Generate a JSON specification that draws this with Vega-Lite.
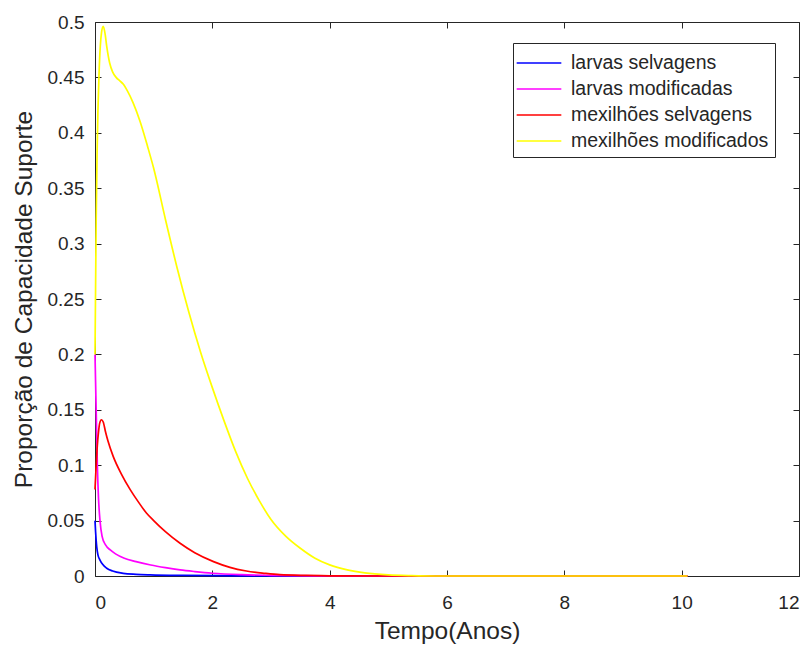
{
  "$schema": "https://vega.github.io/schema/vega-lite/v6.json",
  "width": 704,
  "height": 554,
  "autosize": {"type": "none"},
  "padding": {"left": 95, "top": 22, "right": 12, "bottom": 70},
  "background": "white",
  "config": {
    "view": {"stroke": null},
    "font": "Liberation Sans",
    "axis": {
      "grid": false,
      "domainColor": "#262626",
      "domainWidth": 1,
      "tickColor": "#262626",
      "tickSize": -6,
      "labelFont": "Liberation Sans",
      "labelFontSize": 19,
      "labelColor": "#262626",
      "titleFont": "Liberation Sans",
      "titleFontSize": 24.5,
      "titleFontWeight": "normal",
      "titleColor": "#262626"
    }
  },
  "data": {
    "values": [
      {"t": 0, "v": 0.05, "serie": "larvas selvagens"},
      {"t": 0.01, "v": 0.04, "serie": "larvas selvagens"},
      {"t": 0.02, "v": 0.032, "serie": "larvas selvagens"},
      {"t": 0.03, "v": 0.026, "serie": "larvas selvagens"},
      {"t": 0.05, "v": 0.019, "serie": "larvas selvagens"},
      {"t": 0.085, "v": 0.0144, "serie": "larvas selvagens"},
      {"t": 0.13, "v": 0.0105, "serie": "larvas selvagens"},
      {"t": 0.2, "v": 0.007, "serie": "larvas selvagens"},
      {"t": 0.3, "v": 0.0045, "serie": "larvas selvagens"},
      {"t": 0.48, "v": 0.0024, "serie": "larvas selvagens"},
      {"t": 0.7, "v": 0.0015, "serie": "larvas selvagens"},
      {"t": 0.94, "v": 0.001, "serie": "larvas selvagens"},
      {"t": 1.5, "v": 0.0005, "serie": "larvas selvagens"},
      {"t": 2.5, "v": 0.0002, "serie": "larvas selvagens"},
      {"t": 4, "v": 0.00005, "serie": "larvas selvagens"},
      {"t": 6, "v": 0, "serie": "larvas selvagens"},
      {"t": 10.1, "v": 0, "serie": "larvas selvagens"},

      {"t": 0, "v": 0.2, "serie": "larvas modificadas"},
      {"t": 0.01, "v": 0.175, "serie": "larvas modificadas"},
      {"t": 0.02, "v": 0.15, "serie": "larvas modificadas"},
      {"t": 0.03, "v": 0.125, "serie": "larvas modificadas"},
      {"t": 0.04, "v": 0.1, "serie": "larvas modificadas"},
      {"t": 0.06, "v": 0.07, "serie": "larvas modificadas"},
      {"t": 0.085, "v": 0.05, "serie": "larvas modificadas"},
      {"t": 0.12, "v": 0.036, "serie": "larvas modificadas"},
      {"t": 0.18, "v": 0.028, "serie": "larvas modificadas"},
      {"t": 0.26, "v": 0.0235, "serie": "larvas modificadas"},
      {"t": 0.35, "v": 0.02, "serie": "larvas modificadas"},
      {"t": 0.5, "v": 0.016, "serie": "larvas modificadas"},
      {"t": 0.7, "v": 0.013, "serie": "larvas modificadas"},
      {"t": 0.95, "v": 0.0099, "serie": "larvas modificadas"},
      {"t": 1.2, "v": 0.0075, "serie": "larvas modificadas"},
      {"t": 1.45, "v": 0.0055, "serie": "larvas modificadas"},
      {"t": 1.7, "v": 0.004, "serie": "larvas modificadas"},
      {"t": 2.0, "v": 0.0025, "serie": "larvas modificadas"},
      {"t": 2.5, "v": 0.0012, "serie": "larvas modificadas"},
      {"t": 3, "v": 0.0006, "serie": "larvas modificadas"},
      {"t": 4, "v": 0.0001, "serie": "larvas modificadas"},
      {"t": 5, "v": 0, "serie": "larvas modificadas"},
      {"t": 10.1, "v": 0, "serie": "larvas modificadas"},

      {"t": 0, "v": 0.078, "serie": "mexilhões selvagens"},
      {"t": 0.02, "v": 0.1, "serie": "mexilhões selvagens"},
      {"t": 0.04, "v": 0.118, "serie": "mexilhões selvagens"},
      {"t": 0.06, "v": 0.13, "serie": "mexilhões selvagens"},
      {"t": 0.08, "v": 0.138, "serie": "mexilhões selvagens"},
      {"t": 0.11, "v": 0.141, "serie": "mexilhões selvagens"},
      {"t": 0.14, "v": 0.139, "serie": "mexilhões selvagens"},
      {"t": 0.18, "v": 0.13, "serie": "mexilhões selvagens"},
      {"t": 0.22, "v": 0.122, "serie": "mexilhões selvagens"},
      {"t": 0.31, "v": 0.108, "serie": "mexilhões selvagens"},
      {"t": 0.45, "v": 0.092, "serie": "mexilhões selvagens"},
      {"t": 0.6, "v": 0.078, "serie": "mexilhões selvagens"},
      {"t": 0.75, "v": 0.066, "serie": "mexilhões selvagens"},
      {"t": 0.88, "v": 0.0566, "serie": "mexilhões selvagens"},
      {"t": 1.0, "v": 0.05, "serie": "mexilhões selvagens"},
      {"t": 1.2, "v": 0.04, "serie": "mexilhões selvagens"},
      {"t": 1.45, "v": 0.0295, "serie": "mexilhões selvagens"},
      {"t": 1.7, "v": 0.021, "serie": "mexilhões selvagens"},
      {"t": 2.02, "v": 0.013, "serie": "mexilhões selvagens"},
      {"t": 2.3, "v": 0.0078, "serie": "mexilhões selvagens"},
      {"t": 2.58, "v": 0.0045, "serie": "mexilhões selvagens"},
      {"t": 2.9, "v": 0.0024, "serie": "mexilhões selvagens"},
      {"t": 3.15, "v": 0.0012, "serie": "mexilhões selvagens"},
      {"t": 3.6, "v": 0.0005, "serie": "mexilhões selvagens"},
      {"t": 4, "v": 0.0002, "serie": "mexilhões selvagens"},
      {"t": 5, "v": 0, "serie": "mexilhões selvagens"},
      {"t": 10.1, "v": 0, "serie": "mexilhões selvagens"},

      {"t": 0, "v": 0.2, "serie": "mexilhões modificados"},
      {"t": 0.01, "v": 0.26, "serie": "mexilhões modificados"},
      {"t": 0.02, "v": 0.32, "serie": "mexilhões modificados"},
      {"t": 0.035, "v": 0.38, "serie": "mexilhões modificados"},
      {"t": 0.05, "v": 0.42, "serie": "mexilhões modificados"},
      {"t": 0.07, "v": 0.455, "serie": "mexilhões modificados"},
      {"t": 0.09, "v": 0.478, "serie": "mexilhões modificados"},
      {"t": 0.11, "v": 0.49, "serie": "mexilhões modificados"},
      {"t": 0.14, "v": 0.496, "serie": "mexilhões modificados"},
      {"t": 0.17, "v": 0.49, "serie": "mexilhões modificados"},
      {"t": 0.2, "v": 0.478, "serie": "mexilhões modificados"},
      {"t": 0.25, "v": 0.463, "serie": "mexilhões modificados"},
      {"t": 0.3, "v": 0.455, "serie": "mexilhões modificados"},
      {"t": 0.36, "v": 0.45, "serie": "mexilhões modificados"},
      {"t": 0.42, "v": 0.447, "serie": "mexilhões modificados"},
      {"t": 0.48, "v": 0.444, "serie": "mexilhões modificados"},
      {"t": 0.55, "v": 0.438, "serie": "mexilhões modificados"},
      {"t": 0.65, "v": 0.427, "serie": "mexilhões modificados"},
      {"t": 0.77, "v": 0.41, "serie": "mexilhões modificados"},
      {"t": 0.9, "v": 0.387, "serie": "mexilhões modificados"},
      {"t": 1.0, "v": 0.368, "serie": "mexilhões modificados"},
      {"t": 1.2, "v": 0.322, "serie": "mexilhões modificados"},
      {"t": 1.4, "v": 0.278, "serie": "mexilhões modificados"},
      {"t": 1.6, "v": 0.238, "serie": "mexilhões modificados"},
      {"t": 1.8, "v": 0.202, "serie": "mexilhões modificados"},
      {"t": 2.0, "v": 0.17, "serie": "mexilhões modificados"},
      {"t": 2.2, "v": 0.14, "serie": "mexilhões modificados"},
      {"t": 2.4, "v": 0.112, "serie": "mexilhões modificados"},
      {"t": 2.6, "v": 0.088, "serie": "mexilhões modificados"},
      {"t": 2.8, "v": 0.068, "serie": "mexilhões modificados"},
      {"t": 3.0, "v": 0.051, "serie": "mexilhões modificados"},
      {"t": 3.25, "v": 0.036, "serie": "mexilhões modificados"},
      {"t": 3.5, "v": 0.025, "serie": "mexilhões modificados"},
      {"t": 3.75, "v": 0.016, "serie": "mexilhões modificados"},
      {"t": 4.0, "v": 0.01, "serie": "mexilhões modificados"},
      {"t": 4.3, "v": 0.0055, "serie": "mexilhões modificados"},
      {"t": 4.6, "v": 0.0028, "serie": "mexilhões modificados"},
      {"t": 5.0, "v": 0.001, "serie": "mexilhões modificados"},
      {"t": 5.4, "v": 0.0003, "serie": "mexilhões modificados"},
      {"t": 5.8, "v": 0, "serie": "mexilhões modificados"},
      {"t": 10.1, "v": 0, "serie": "mexilhões modificados"}
    ]
  },
  "encoding": {
    "color": {
      "field": "serie",
      "type": "nominal",
      "scale": {
        "domain": ["larvas selvagens", "larvas modificadas", "mexilhões selvagens", "mexilhões modificados"],
        "range": ["#0000ff", "#ff00ff", "#ff0000", "#ffff00"]
      },
      "legend": {
        "title": null,
        "orient": "none",
        "legendX": 418,
        "legendY": 21,
        "direction": "vertical",
        "strokeColor": "#262626",
        "fillColor": "white",
        "padding": 6,
        "symbolType": "M-1.7,0H1.7",
        "symbolSize": 690,
        "symbolStrokeWidth": 1.6,
        "symbolOffset": 6,
        "labelOffset": 18,
        "labelFont": "Liberation Sans",
        "labelFontSize": 19.5,
        "labelColor": "#262626",
        "rowPadding": 2,
        "labelLimit": 400
      }
    }
  },
  "layer": [
    {
      "transform": [{"filter": "datum.serie === 'larvas selvagens'"}],
      "mark": {"type": "line", "strokeWidth": 1.7, "interpolate": "monotone"},
      "encoding": {
        "x": {"field": "t", "type": "quantitative", "scale": {"domain": [0, 12], "nice": false},
              "axis": {"orient": "bottom", "values": [0, 2, 4, 6, 8, 10, 12], "title": "Tempo(Anos)", "labelPadding": 23, "titlePadding": 7}},
        "y": {"field": "v", "type": "quantitative", "scale": {"domain": [0, 0.5], "nice": false},
              "axis": {"orient": "left", "values": [0, 0.05, 0.1, 0.15, 0.2, 0.25, 0.3, 0.35, 0.4, 0.45, 0.5], "format": "~g", "title": "Proporção de Capacidade Suporte", "labelPadding": 17, "titlePadding": 11}}
      }
    },
    {
      "transform": [{"filter": "datum.serie === 'larvas modificadas'"}],
      "mark": {"type": "line", "strokeWidth": 1.7, "interpolate": "monotone"},
      "encoding": {
        "x": {"field": "t", "type": "quantitative", "scale": {"domain": [0, 12], "nice": false}, "axis": null},
        "y": {"field": "v", "type": "quantitative", "scale": {"domain": [0, 0.5], "nice": false}, "axis": null}
      }
    },
    {
      "transform": [{"filter": "datum.serie === 'mexilhões selvagens'"}],
      "mark": {"type": "line", "strokeWidth": 1.7, "interpolate": "monotone"},
      "encoding": {
        "x": {"field": "t", "type": "quantitative", "scale": {"domain": [0, 12], "nice": false}, "axis": null},
        "y": {"field": "v", "type": "quantitative", "scale": {"domain": [0, 0.5], "nice": false}, "axis": null}
      }
    },
    {
      "transform": [{"filter": "datum.serie === 'mexilhões modificados'"}],
      "mark": {"type": "line", "strokeWidth": 1.7, "interpolate": "monotone"},
      "encoding": {
        "x": {"field": "t", "type": "quantitative", "scale": {"domain": [0, 12], "nice": false},
              "axis": {"orient": "top", "values": [0, 2, 4, 6, 8, 10, 12], "labels": false, "title": null}},
        "y": {"field": "v", "type": "quantitative", "scale": {"domain": [0, 0.5], "nice": false},
              "axis": {"orient": "right", "values": [0, 0.05, 0.1, 0.15, 0.2, 0.25, 0.3, 0.35, 0.4, 0.45, 0.5], "labels": false, "title": null}}
      }
    }
  ],
  "resolve": {"axis": {"x": "independent", "y": "independent"}}
}
